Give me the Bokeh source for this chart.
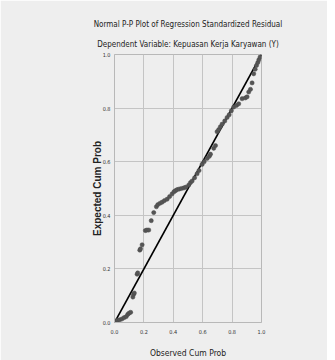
from bokeh.plotting import figure
from bokeh.models import ColumnDataSource, FixedTicker, Range1d, Title
from bokeh.embed import file_html
from bokeh.resources import INLINE

title_text = "Normal P-P Plot of Regression Standardized Residual"
subtitle_text = "Dependent Variable: Kepuasan Kerja Karyawan (Y)"
x_title = "Observed Cum Prob"
y_title = "Expected Cum Prob"
tick_values = [0.0, 0.2, 0.4, 0.6, 0.8, 1.0]

observed = [0.01, 0.02, 0.035, 0.05, 0.065, 0.08, 0.09, 0.10, 0.11,
            0.125, 0.13, 0.135, 0.154, 0.158, 0.172, 0.177, 0.188,
            0.21, 0.22, 0.233, 0.25, 0.267, 0.285, 0.295, 0.31, 0.324,
            0.34, 0.358, 0.375, 0.392, 0.405, 0.415, 0.426, 0.44, 0.455,
            0.471, 0.485, 0.505, 0.517, 0.528, 0.545, 0.562, 0.575, 0.596,
            0.61, 0.63, 0.645, 0.653, 0.675, 0.687, 0.698, 0.709, 0.72,
            0.732, 0.75, 0.766, 0.78, 0.795, 0.811, 0.83, 0.845, 0.868,
            0.89, 0.902, 0.913, 0.925, 0.936, 0.947, 0.957, 0.966, 0.975,
            0.982, 0.99]
expected = [0.005, 0.008, 0.01, 0.013, 0.018, 0.022, 0.03, 0.035, 0.038,
            0.095, 0.105, 0.11, 0.18, 0.185, 0.27, 0.275, 0.29,
            0.343, 0.345, 0.345, 0.38, 0.41, 0.432, 0.44, 0.445, 0.449,
            0.455, 0.46, 0.47, 0.48, 0.488, 0.492, 0.496, 0.498, 0.5,
            0.502, 0.505, 0.513, 0.522, 0.528, 0.54, 0.555, 0.567, 0.59,
            0.6, 0.612, 0.62, 0.628, 0.65, 0.66, 0.712, 0.72, 0.73,
            0.74, 0.752, 0.765, 0.775, 0.79, 0.804, 0.81, 0.816, 0.835,
            0.838, 0.842, 0.86, 0.87, 0.894, 0.928, 0.945, 0.959, 0.97,
            0.98, 0.99]
ref_x = [0.0, 1.0]
ref_y = [0.0, 1.0]

BG = "#eeeeee"
NARROW = "DejaVu Sans Condensed, Liberation Sans, sans-serif"

p = figure(output_backend="svg", toolbar_location=None,
           x_range=Range1d(0, 1), y_range=Range1d(0, 1),
           min_border_left=114, min_border_right=66, min_border_top=54,
           min_border_bottom=30, frame_width=147, frame_height=268)
p.background_fill_color = BG
p.border_fill_color = BG
p.outline_line_color = "#b8b8b8"
p.outline_line_width = 1

for ax in (p.xaxis[0], p.yaxis[0]):
    ax.ticker = FixedTicker(ticks=tick_values)
    ax.major_label_text_font = NARROW
    ax.major_label_text_font_size = "5.5px"
    ax.major_label_text_color = "#333333"
    ax.axis_line_color = "#b8b8b8"
    ax.major_tick_line_color = None
    ax.minor_tick_line_color = None

p.xaxis[0].major_label_standoff = 0
p.yaxis[0].major_label_standoff = -2
p.xaxis[0].major_label_overrides = {v: f"{v:.1f}" for v in tick_values}
p.yaxis[0].major_label_overrides = {v: f"{v:.1f}" for v in tick_values}

p.xaxis.axis_label = x_title
p.xaxis.axis_label_text_font = NARROW
p.xaxis.axis_label_text_font_size = "8.5px"
p.xaxis.axis_label_text_font_style = "normal"
p.xaxis.axis_label_text_color = "#222222"
p.xaxis.axis_label_standoff = 11

p.yaxis.axis_label = y_title
p.yaxis.axis_label_text_font = "Liberation Sans"
p.yaxis.axis_label_text_font_size = "10px"
p.yaxis.axis_label_text_font_style = "bold"
p.yaxis.axis_label_text_color = "#222222"
p.yaxis.axis_label_standoff = -3

p.xgrid.ticker = FixedTicker(ticks=tick_values)
p.ygrid.ticker = FixedTicker(ticks=tick_values)
p.grid.grid_line_color = "#c4c4c4"
p.grid.grid_line_width = 1

p.line(ref_x, ref_y, line_color="black", line_width=1.6)

src = ColumnDataSource(dict(x=observed, y=expected))
p.scatter("x", "y", source=src, size=4.2, fill_color="#555555",
          line_color="#4a4a4a", line_width=0.5)

p.add_layout(Title(text=subtitle_text, text_font=NARROW, text_font_size="8px",
                   text_font_style="normal", align="center", offset=-11,
                   text_color="#222222", standoff=12), "above")
p.add_layout(Title(text=title_text, text_font=NARROW, text_font_size="8px",
                   text_font_style="normal", align="center", offset=-11,
                   text_color="#222222", standoff=6), "above")

open("out.html", "w").write(file_html(p, INLINE))
